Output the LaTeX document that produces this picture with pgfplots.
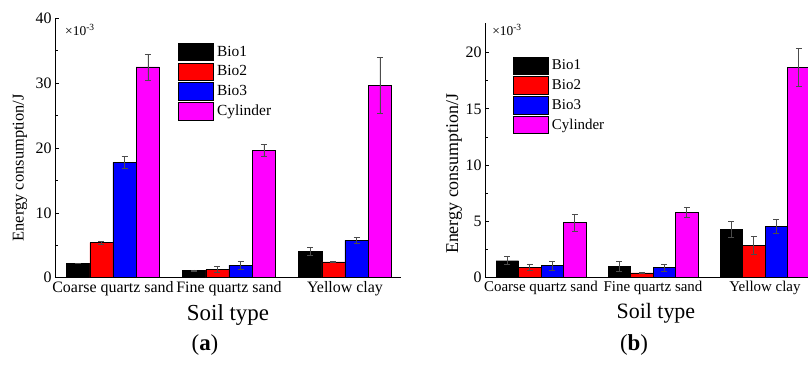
\documentclass[border=0pt]{standalone}
\usepackage{fontspec}
\setmainfont{Liberation Serif}
\usepackage{pgfplots}
\pgfplotsset{compat=1.18}
\definecolor{cBlack}{RGB}{0,0,0}
\definecolor{cRed}{RGB}{255,0,0}
\definecolor{cBlue}{RGB}{0,0,255}
\definecolor{cMag}{RGB}{255,0,255}
\pgfplotsset{
  legA/.style={legend image code/.code={\draw[##1,draw=black,line width=0.4pt] (0bp,-8.7bp) rectangle (35bp,8.7bp);}},
  eb/.style={
    /pgfplots/error bars/y dir=both,
    /pgfplots/error bars/y explicit,
    /pgfplots/error bars/error bar style={line width=0.55pt, color=black!70},
    /pgfplots/error bars/error mark options={rotate=90, mark size=3bp, line width=0.55pt, color=black!70},
  },
  common/.style={
    scale only axis,
    ybar=0pt,
    axis x line=bottom,
    axis y line=left,
    axis line style={-, line width=0.7pt},
    xtick={0,1,2},
    xticklabels={Coarse quartz sand, Fine quartz sand, Yellow clay},
    x tick style={draw=none},
    ymin=0,
    tick align=inside,
    major tick length=4bp, minor tick length=2.5bp,
    minor y tick num=1,
    y tick style={line width=0.7pt, black},
    yticklabel style={font=\fontsize{16}{16}\selectfont},
    /pgf/number format/assume math mode=true,
    ylabel={Energy consumption/J},
    xlabel={Soil type},
    xlabel style={anchor=center, inner sep=0pt},
    legend cell align=left,
  },
}
\begin{document}
\begin{tikzpicture}
\path[use as bounding box] (0bp,0bp) rectangle (808bp,365bp);
% ---------- (a) ----------
\begin{axis}[common,
  at={(55bp,87.3bp)}, anchor=south west,
  width=346bp, height=259.4bp,
  xmin=-0.5, xmax=2.483,
  ymax=40, ytick={0,10,20,30,40},
  bar width=23.2bp,
  xticklabel style={font=\fontsize{16}{16}\selectfont},
  ylabel style={font=\fontsize{16.5}{16.5}\selectfont, at={(axis description cs:-0.101,0.424)}, anchor=center},
  xlabel style={font=\fontsize{23}{23}\selectfont, at={(axis description cs:0.5,-0.1446)}},
  legend style={at={(0.3555,0.906)}, anchor=north west, draw=none, fill=none, inner sep=0pt,
    row sep=2bp, font=\fontsize{15.5}{15.5}\selectfont, nodes={inner sep=1.5bp},
    /tikz/every odd column/.append style={column sep=2bp}},
]
\addplot[fill=cBlack, draw=black, line width=0.4pt, eb, legA] coordinates {(0,2.2) +- (0,0.05) (1,1.1) +- (0,0.1) (2,4.07) +- (0,0.6)};
\addplot[fill=cRed, draw=black, line width=0.4pt, eb, legA] coordinates {(0,5.4) +- (0,0.2) (1,1.3) +- (0,0.5) (2,2.45) +- (0,0.1)};
\addplot[fill=cBlue, draw=black, line width=0.4pt, eb, legA] coordinates {(0,17.8) +- (0,0.9) (1,1.95) +- (0,0.6) (2,5.75) +- (0,0.5)};
\addplot[fill=cMag, draw=black, line width=0.4pt, eb, legA] coordinates {(0,32.5) +- (0,2.0) (1,19.6) +- (0,0.9) (2,29.7) +- (0,4.3)};
\legend{Bio1,Bio2,Bio3,Cylinder}
\node[anchor=west, inner sep=0pt, font=\fontsize{13.5}{13.5}\selectfont] at (rel axis cs:0.029,0.955) {×10\textsuperscript{-3}};
\end{axis}
% ---------- (b) ----------
\begin{axis}[common,
  at={(485bp,87.3bp)}, anchor=south west,
  width=323bp, height=254.4bp,
  xmin=-0.5, xmax=2.384,
  ymax=22.6, ytick={0,5,10,15,20},
  bar width=22.5bp,
  xticklabel style={font=\fontsize{15}{15}\selectfont},
  ylabel style={font=\fontsize{18}{18}\selectfont, at={(axis description cs:-0.096,0.409)}, anchor=center},
  xlabel style={font=\fontsize{22}{22}\selectfont, at={(axis description cs:0.529,-0.1395)}},
  legend style={at={(0.0867,0.87)}, anchor=north west, draw=none, fill=none, inner sep=0pt,
    row sep=2bp, font=\fontsize{15}{15}\selectfont, nodes={inner sep=1.3bp},
    /tikz/every odd column/.append style={column sep=2bp}},
]
\addplot[fill=cBlack, draw=black, line width=0.4pt, eb, legA] coordinates {(0,1.51) +- (0,0.35) (1,1.01) +- (0,0.45) (2,4.3) +- (0,0.7)};
\addplot[fill=cRed, draw=black, line width=0.4pt, eb, legA] coordinates {(0,0.95) +- (0,0.25) (1,0.42) +- (0,0.05) (2,2.88) +- (0,0.77)};
\addplot[fill=cBlue, draw=black, line width=0.4pt, eb, legA] coordinates {(0,1.1) +- (0,0.4) (1,0.89) +- (0,0.3) (2,4.57) +- (0,0.62)};
\addplot[fill=cMag, draw=black, line width=0.4pt, eb, legA] coordinates {(0,4.89) +- (0,0.75) (1,5.81) +- (0,0.45) (2,18.67) +- (0,1.7)};
\legend{Bio1,Bio2,Bio3,Cylinder}
\node[anchor=west, inner sep=0pt, font=\fontsize{13.5}{13.5}\selectfont] at (rel axis cs:0.022,0.975) {×10\textsuperscript{-3}};
\end{axis}
\node[font=\fontsize{23}{23}\selectfont] at (205bp,20bp) {(\textbf{a})};
\node[font=\fontsize{23}{23}\selectfont] at (634bp,20bp) {(\textbf{b})};
\end{tikzpicture}
\end{document}
